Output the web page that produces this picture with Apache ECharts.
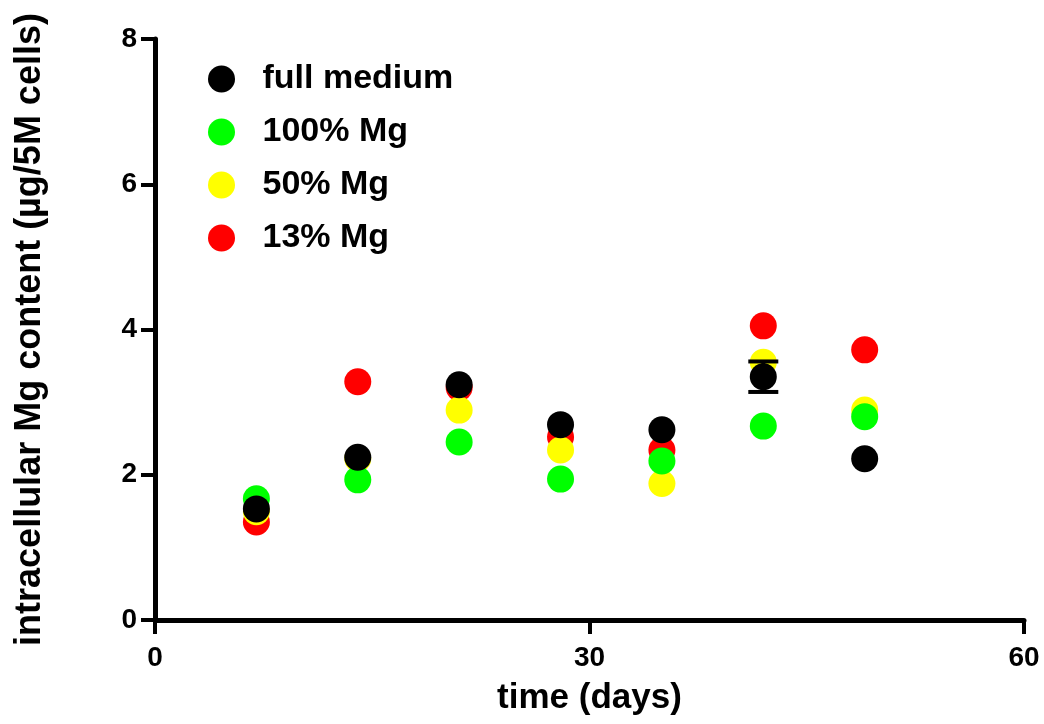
<!DOCTYPE html>
<html>
<head>
<meta charset="utf-8">
<title>intracellular Mg content</title>
<script src="https://cdn.jsdelivr.net/npm/echarts@6/dist/echarts.min.js"></script>
<style>
	html, body { margin: 0; padding: 0; background: #fff; }
	#main { width: 1044px; height: 724px; }
</style>
</head>
<body>
<div id="main"></div>
<script>
// 时间点 (days)
var days = [ 7, 14, 21, 28, 35, 42, 49 ];
// 各组的 Mg 含量 (µg/5M cells)
var fullMedium = [ 1.53, 2.24, 3.24, 2.69, 2.62, 3.35, 2.22 ];
var mg100 = [ 1.67, 1.93, 2.45, 1.94, 2.19, 2.67, 2.80 ];
var mg50 = [ 1.49, 2.22, 2.89, 2.34, 1.88, 3.55, 2.89 ];
var mg13 = [ 1.35, 3.28, 3.20, 2.52, 2.34, 4.05, 3.72 ];
// full medium 的误差 (只有 day 42 能看见)
var fullMediumErr = [ 0, 0, 0, 0, 0, 0.21, 0 ];
var groupNames = [ 'full medium', '100% Mg', '50% Mg', '13% Mg' ];
var groupColors = [ '#000000', '#00ff00', '#ffff00', '#ff0000' ];
var xTicks = [ 0, 30, 60 ];
var yTicks = [ 0, 2, 4, 6, 8 ];

var font = 'Arial, "Liberation Sans", sans-serif';

function pairs(vals) {
	var out = [];
	for ( var i = 0; i < days.length; i++) {
		out.push([ days[i], vals[i] ]);
	}
	return out;
}

function errData() {
	var out = [];
	for ( var i = 0; i < days.length; i++) {
		if (fullMediumErr[i] > 0) {
			out.push([ days[i], fullMedium[i] - fullMediumErr[i],
					fullMedium[i] + fullMediumErr[i] ]);
		}
	}
	return out;
}

function scatter(name, vals, color) {
	return {
		name : name,
		type : 'scatter',
		symbol : 'circle',
		symbolSize : 27,
		itemStyle : {
			color : color,
			opacity : 1
		},
		data : pairs(vals)
	};
}

var myChart = echarts.init(document.getElementById('main'));
var option = {
	animation : false,
	backgroundColor : '#fff',
	color : groupColors,
	textStyle : {
		fontFamily : font
	},
	grid : {
		left : 155,
		right : 20,
		top : 39,
		bottom : 104
	},
	legend : {
		orient : 'vertical',
		left : 203,
		top : 57,
		itemWidth : 72,
		itemHeight : 27,
		itemGap : 19,
		icon : 'circle',
		selectedMode : false,
		textStyle : {
			fontFamily : font,
			fontWeight : 'bold',
			fontSize : 34,
			color : '#000'
		},
		data : groupNames
	},
	xAxis : {
		type : 'value',
		min : xTicks[0],
		max : xTicks[xTicks.length - 1],
		interval : 30,
		name : 'time (days)',
		nameLocation : 'middle',
		nameGap : 61,
		nameTextStyle : {
			fontFamily : font,
			fontWeight : 'bold',
			fontSize : 35,
			color : '#000',
			verticalAlign : 'top'
		},
		splitLine : {
			show : false
		},
		axisLine : {
			onZero : false,
			lineStyle : {
				color : '#000',
				width : 5
			}
		},
		axisTick : {
			length : 14,
			lineStyle : {
				color : '#000',
				width : 4
			}
		},
		axisLabel : {
			margin : 24,
			fontFamily : font,
			fontWeight : 'bold',
			fontSize : 28,
			color : '#000'
		}
	},
	yAxis : {
		type : 'value',
		min : yTicks[0],
		max : yTicks[yTicks.length - 1],
		interval : 2,
		name : 'intracellular Mg content (µg/5M cells)',
		nameLocation : 'middle',
		nameGap : 107,
		nameTextStyle : {
			fontFamily : font,
			fontWeight : 'bold',
			fontSize : 36,
			color : '#000'
		},
		splitLine : {
			show : false
		},
		axisLine : {
			show : true,
			onZero : false,
			lineStyle : {
				color : '#000',
				width : 5
			}
		},
		axisTick : {
			show : true,
			length : 14,
			lineStyle : {
				color : '#000',
				width : 4
			}
		},
		axisLabel : {
			margin : 18,
			fontFamily : font,
			fontWeight : 'bold',
			fontSize : 28,
			color : '#000'
		}
	},
	// 画的顺序: 红 -> 黄 -> 绿 -> 黑, 黑色在最上面
	series : [
			scatter(groupNames[3], mg13, groupColors[3]),
			scatter(groupNames[2], mg50, groupColors[2]),
			scatter(groupNames[1], mg100, groupColors[1]),
			scatter(groupNames[0], fullMedium, groupColors[0]),
			{
				name : 'full medium err',
				type : 'custom',
				z : 5,
				renderItem : function(params, api) {
					var lo = api.coord([ api.value(0), api.value(1) ]);
					var hi = api.coord([ api.value(0), api.value(2) ]);
					var half = 15;
					var st = {
						stroke : '#000',
						lineWidth : 4
					};
					return {
						type : 'group',
						children : [ {
							type : 'line',
							shape : {
								x1 : lo[0],
								y1 : lo[1],
								x2 : hi[0],
								y2 : hi[1]
							},
							style : st
						}, {
							type : 'line',
							shape : {
								x1 : lo[0] - half,
								y1 : lo[1],
								x2 : lo[0] + half,
								y2 : lo[1]
							},
							style : st
						}, {
							type : 'line',
							shape : {
								x1 : hi[0] - half,
								y1 : hi[1],
								x2 : hi[0] + half,
								y2 : hi[1]
							},
							style : st
						} ]
					};
				},
				encode : {
					x : 0,
					y : [ 1, 2 ]
				},
				data : errData()
			} ]
};
myChart.setOption(option);
</script>
</body>
</html>
